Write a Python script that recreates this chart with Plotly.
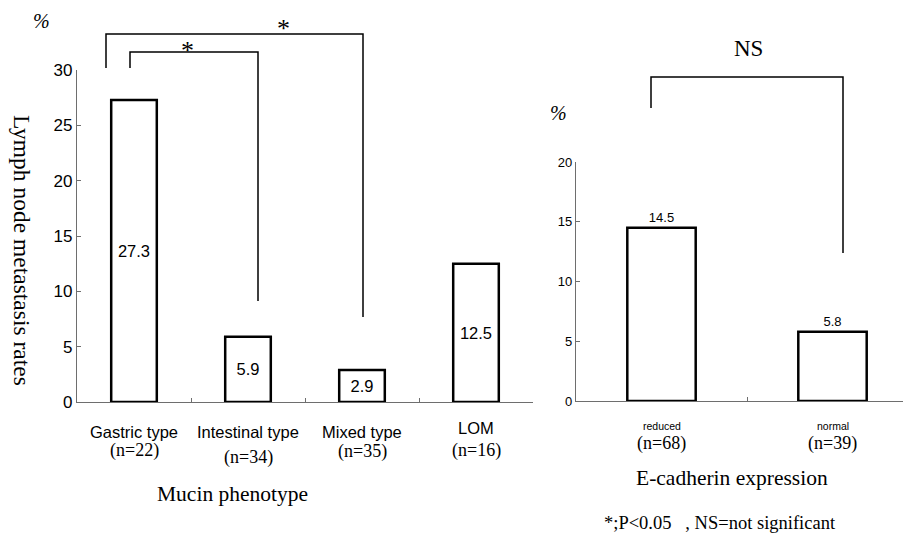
import plotly.graph_objects as go

# ---- data ----
mucin_types = ["Gastric type", "Intestinal type", "Mixed type", "LOM"]
mucin_n = ["(n=22)", "(n=34)", "(n=35)", "(n=16)"]
mucin_rates = [27.3, 5.9, 2.9, 12.5]

ecad_groups = ["reduced", "normal"]
ecad_n = ["(n=68)", "(n=39)"]
ecad_rates = [14.5, 5.8]

left_ticks = [0, 5, 10, 15, 20, 25, 30]
right_ticks = [0, 5, 10, 15, 20]

W, H = 911, 538
OFF = 8  # page body margin
SERIF = "Liberation Serif, Times New Roman, serif"
SANS = "Liberation Sans, Arial, sans-serif"
AXC = "#6e6e6e"


def px(x):
    return (x - OFF) / W


def py(y):
    return 1 - (y - OFF) / H


fig = go.Figure()

fig.add_trace(go.Bar(
    x=mucin_types, y=mucin_rates, xaxis="x", yaxis="y",
    width=0.4, marker=dict(color="white", line=dict(color="black", width=2.5)),
    text=[f"{v}" for v in mucin_rates], textposition="inside",
    insidetextanchor="middle", textangle=0,
    textfont=dict(family=SANS, size=16.5, color="black"),
    showlegend=False, hoverinfo="skip",
))
fig.add_trace(go.Bar(
    x=ecad_groups, y=ecad_rates, xaxis="x2", yaxis="y2",
    width=0.4, marker=dict(color="white", line=dict(color="black", width=2.5)),
    text=[f"{v}" for v in ecad_rates], textposition="outside",
    textangle=0, cliponaxis=False,
    textfont=dict(family=SANS, size=13, color="black"),
    showlegend=False, hoverinfo="skip",
))

axis_common = dict(showgrid=False, zeroline=False, showline=True, linecolor=AXC,
                   linewidth=1.2, ticks="inside", tickcolor=AXC, ticklen=4, tickwidth=1,
                   automargin=False)

fig.update_layout(
    width=W, height=H,
    margin=dict(l=0, r=0, t=0, b=0),
    paper_bgcolor="white", plot_bgcolor="white",
    xaxis=dict(domain=[px(77), px(533)], range=[-0.5, 3.5], showticklabels=False,
               tickson="boundaries", anchor="y", **axis_common),
    yaxis=dict(domain=[py(402), py(70)], range=[0, 30], tickvals=left_ticks,
               tickfont=dict(family=SANS, size=17, color="black"), anchor="x",
               **axis_common),
    xaxis2=dict(domain=[px(576), px(911)], range=[-0.5, -0.5 + (911 - 576) / 171],
                showticklabels=False, tickson="boundaries", anchor="y2", **axis_common),
    yaxis2=dict(domain=[py(401), py(162)], range=[0, 20], tickvals=right_ticks,
                tickfont=dict(family=SANS, size=13, color="black"), anchor="x2",
                **axis_common),
)


def txt(x, y, text, family, size, angle=0, xref="paper"):
    return dict(x=x if xref != "paper" else px(x), xref=xref, y=py(y), yref="paper",
                text=text, showarrow=False, textangle=angle,
                xanchor="center", yanchor="middle",
                font=dict(family=family, size=size, color="black"))


ann = []
name_y = [432, 432, 432, 428]
n_y = [450, 457, 451, 450]
for i, (name, n) in enumerate(zip(mucin_types, mucin_n)):
    ann.append(txt(name, name_y[i], name, SANS, 16.5, xref="x"))
    ann.append(txt(name, n_y[i], n, SERIF, 18, xref="x"))
for name, n in zip(ecad_groups, ecad_n):
    ann.append(txt(name, 426, name, SANS, 10.5, xref="x2"))
    ann.append(txt(name, 443, n, SERIF, 18, xref="x2"))

ann += [
    txt(232, 494, "Mucin phenotype", SERIF, 21.5),
    txt(732, 478, "E-cadherin expression", SERIF, 21.5),
    txt(720, 523, "*;P&lt;0.05&nbsp;&nbsp;&nbsp;, NS=not significant", SERIF, 18.5),
    txt(22, 250, "Lymph node metastasis rates", SERIF, 23.5, angle=90),
    txt(41, 21, "<i>%</i>", SERIF, 20),
    txt(558, 113, "<i>%</i>", SERIF, 20),
    txt(748, 49, "NS", SERIF, 23),
    txt(283, 28, "*", SERIF, 26),
    txt(187, 51, "*", SERIF, 26),
]
fig.update_layout(annotations=ann)


def bracket(x0, x1, y_top, y_left, y_right):
    pts = [(x0, y_left), (x0, y_top), (x1, y_top), (x1, y_right)]
    path = "M " + " L ".join(f"{px(a)},{py(b)}" for a, b in pts)
    return dict(type="path", path=path, xref="paper", yref="paper",
                line=dict(color="black", width=1.5))


fig.update_layout(shapes=[
    bracket(106, 363, 34, 68, 317),
    bracket(130, 258, 52, 68, 301),
    bracket(651, 843, 77, 108, 253),
])

fig.write_html("out.html")
